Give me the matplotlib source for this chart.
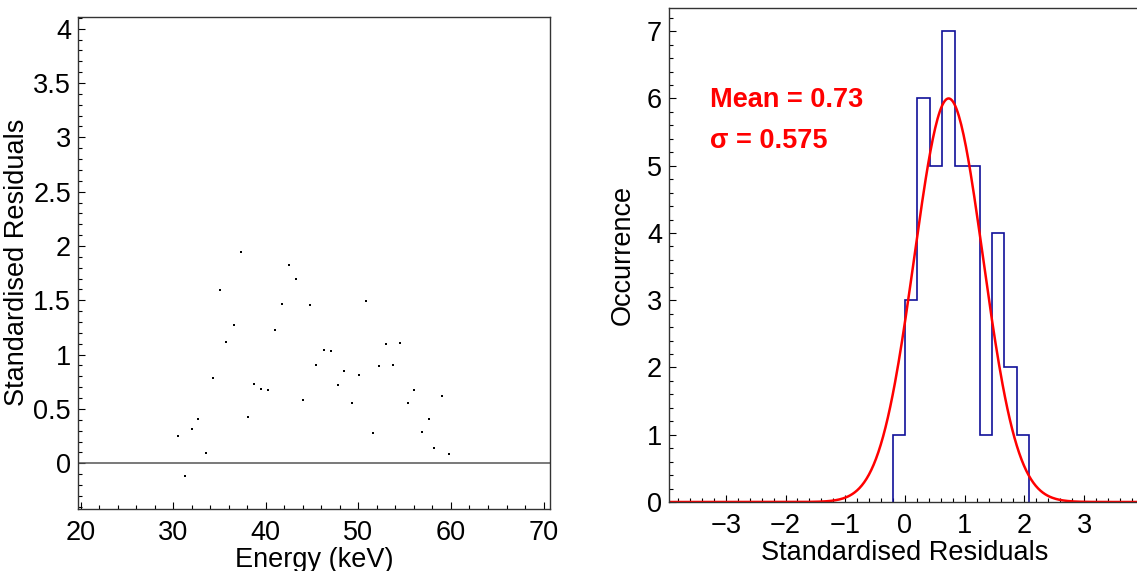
import numpy as np
import matplotlib.pyplot as plt
from matplotlib.ticker import MultipleLocator, AutoMinorLocator

plt.rcParams['font.family'] = ['Liberation Sans', 'DejaVu Sans']

# residuals vs energy
energy = [30.52, 31.30, 32.07, 32.72, 33.49, 34.26, 35.00, 35.73, 36.54, 37.31,
          38.04, 38.77, 39.51, 40.24, 40.97, 41.78, 42.51, 43.28, 44.06, 44.79,
          45.44, 46.25, 46.99, 47.76, 48.49, 49.26, 50.03, 50.80, 51.57, 52.23,
          53.00, 53.77, 54.54, 55.31, 56.04, 56.82, 57.59, 58.20, 59.01, 59.75]
resid = [0.251, -0.114, 0.315, 0.405, 0.097, 0.787, 1.597, 1.118, 1.272, 1.945,
         0.428, 0.730, 0.683, 0.673, 1.225, 1.466, 1.821, 1.694, 0.582, 1.460,
         0.907, 1.045, 1.031, 0.723, 0.850, 0.552, 0.817, 1.490, 0.281, 0.894,
         1.095, 0.900, 1.105, 0.559, 0.673, 0.285, 0.405, 0.141, 0.616, 0.090]

# histogram binning and gaussian fit
bin_lo = -0.208
bin_w = 0.208
n_bins = 11
fit_const = 6.0
fit_mean = 0.73
fit_sigma = 0.575

fig = plt.figure(figsize=(11.37, 5.71), dpi=100)

# ---- left: residuals vs energy
ax1 = fig.add_axes([78 / 1137, 1 - 508.7 / 571, (550 - 78) / 1137, (508.7 - 16.7) / 571])
ax1.plot(energy, resid, 's', color='black', ms=2.0, mew=0)
ax1.axhline(0, color='#555555', lw=1.1)
ax1.set_xlim(19.7, 70.7)
ax1.set_ylim(-0.418, 4.11)
ax1.xaxis.set_major_locator(MultipleLocator(10))
ax1.xaxis.set_minor_locator(AutoMinorLocator(5))
ax1.set_yticks([0, 0.5, 1, 1.5, 2, 2.5, 3, 3.5, 4])
ax1.set_yticklabels(['0', '0.5', '1', '1.5', '2', '2.5', '3', '3.5', '4'])
ax1.yaxis.set_minor_locator(MultipleLocator(0.1))
ax1.set_xlabel('Energy (keV)', fontsize=19.5, labelpad=1)
ax1.set_ylabel('Standardised Residuals', fontsize=19.5, labelpad=2)

# ---- right: histogram of residuals
ax2 = fig.add_axes([669 / 1137, 1 - 502 / 571, (1141 - 669) / 1137, (502 - 8.3) / 571])
edges = bin_lo + bin_w * np.arange(n_bins + 1)
ax2.hist(resid, bins=edges, histtype='step', color='#10109a', lw=1.2)
xs = np.linspace(-3.95, 3.95, 400)
ax2.plot(xs, fit_const * np.exp(-0.5 * ((xs - fit_mean) / fit_sigma) ** 2), color='red', lw=1.8)
ax2.set_xlim(-3.95, 3.95)
ax2.set_ylim(0, 7.34)
ax2.xaxis.set_minor_locator(MultipleLocator(0.2))
ax2.yaxis.set_major_locator(MultipleLocator(1))
ax2.yaxis.set_minor_locator(AutoMinorLocator(5))
ax2.set_xticks([-3, -2, -1, 0, 1, 2, 3])
ax2.set_xticklabels(['\u22123', '\u22122', '\u22121', '0', '1', '2', '3'])
ax2.set_xlabel('Standardised Residuals', fontsize=19.5, labelpad=1)
ax2.set_ylabel('Occurrence', fontsize=19.5, labelpad=8)
ax2.text(0.0875, 0.80, 'Mean = 0.73', transform=ax2.transAxes, color='red',
         fontsize=19.5, fontweight='bold')
ax2.text(0.0875, 0.718, '\u03c3 = 0.575', transform=ax2.transAxes, color='red',
         fontsize=19.5, fontweight='bold')

for ax in (ax1, ax2):
    ax.tick_params(which='both', direction='in', labelsize=19.5, top=False, right=False)
    ax.tick_params(which='major', length=5, width=0.8)
    ax.tick_params(which='minor', length=2.8, width=0.8)
    ax.tick_params(axis='x', pad=8)
    ax.tick_params(axis='y', pad=5)
    for s in ax.spines.values():
        s.set_linewidth(1.0)
        s.set_color('#333333')

fig.savefig('out.png', dpi=100)
